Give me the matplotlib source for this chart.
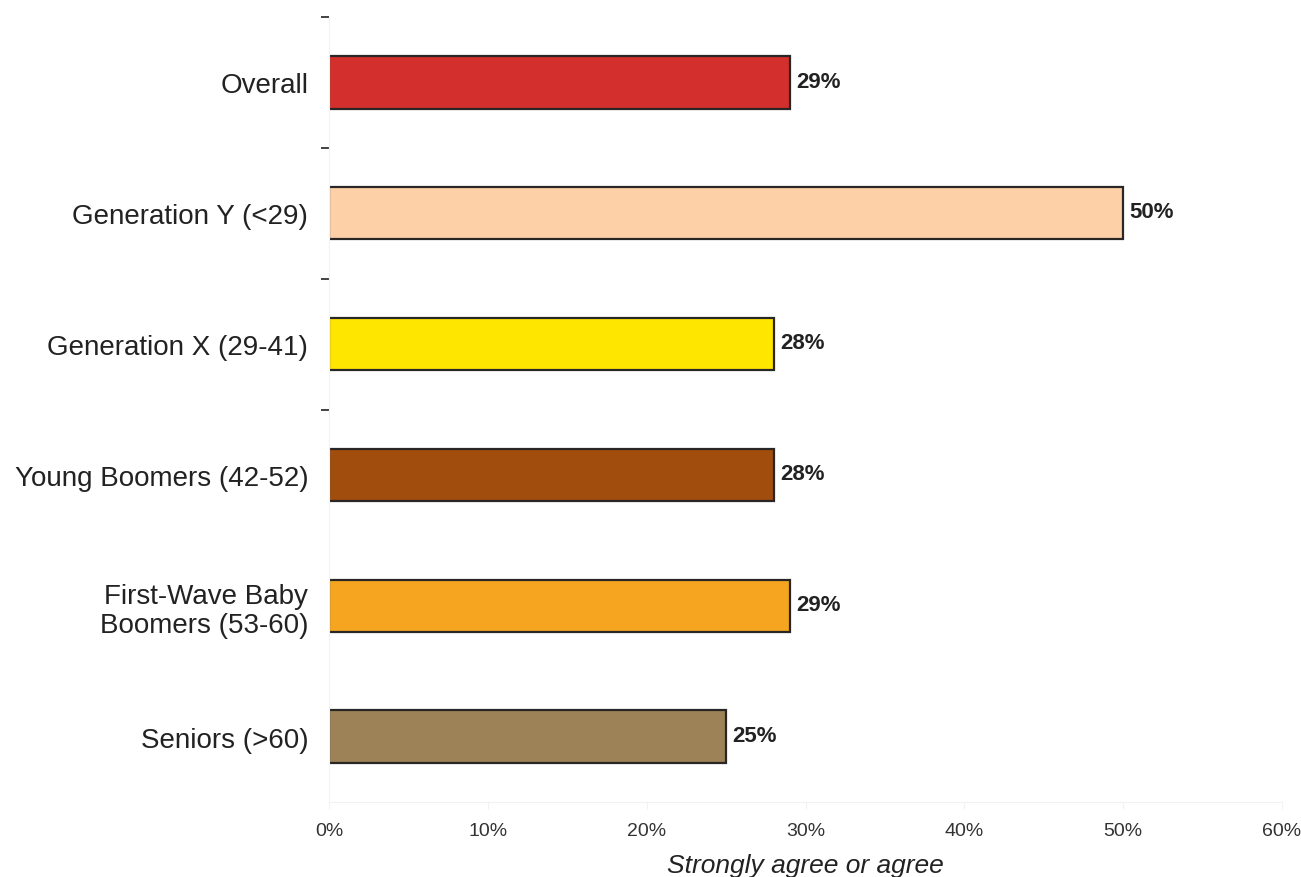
import matplotlib
matplotlib.use("Agg")
import matplotlib.pyplot as plt
import numpy as np

categories = ["Overall", "Generation Y (<29)", "Generation X (29-41)",
              "Young Boomers (42-52)", "First-Wave Baby\nBoomers (53-60)", "Seniors (>60)"]
values = [29, 50, 28, 28, 29, 25]
colors = ["#D32F2C", "#FDD0A8", "#FFE600", "#A04D0E", "#F5A51F", "#9C8256"]
xticks = [0, 10, 20, 30, 40, 50, 60]
xticklabels = ["0%", "10%", "20%", "30%", "40%", "50%", "60%"]
minor_ticks = [-0.5, 0.5, 1.5, 2.5]

plt.rcParams['font.family'] = ['Liberation Sans', 'DejaVu Sans']

fig = plt.figure(figsize=(13.01, 8.78), dpi=100)
ax = fig.add_axes([329/1301, 1-803/878, (1282-329)/1301, (803-18)/878])

y = np.arange(len(categories))
ax.barh(y, values, height=0.4, color=colors, edgecolor="#2a2626", linewidth=1.6)
for yi, v in zip(y, values):
    ax.text(v + 0.4, yi - 0.01, f"{v}%", va="center", ha="left",
            fontsize=16, fontweight="bold", color="#222222")

ax.set_ylim(5.5, -0.5)
ax.set_xlim(0, 60)
ax.set_yticks(y)
ax.set_yticklabels(categories, fontsize=20, color="#222222", linespacing=1.15)
ax.set_yticks(minor_ticks, minor=True)
ax.tick_params(axis="y", which="major", length=0, pad=15)
ax.tick_params(axis="y", which="minor", length=6, width=1.2, color="#222222", direction="out")
ax.set_xticks(xticks)
ax.set_xticklabels(xticklabels, fontsize=14, color="#333333")
ax.tick_params(axis="x", length=5, color="#f2f2f2", pad=9.5)

for s in ["top", "right"]:
    ax.spines[s].set_visible(False)
for s in ["left", "bottom"]:
    ax.spines[s].set_color("#f2f2f2")

fig.text(805.5/1301, 1-866/878, "Strongly agree or agree", fontsize=19,
         fontstyle="italic", color="#222222", ha="center", va="center")

fig.savefig("out.png", dpi=100)
